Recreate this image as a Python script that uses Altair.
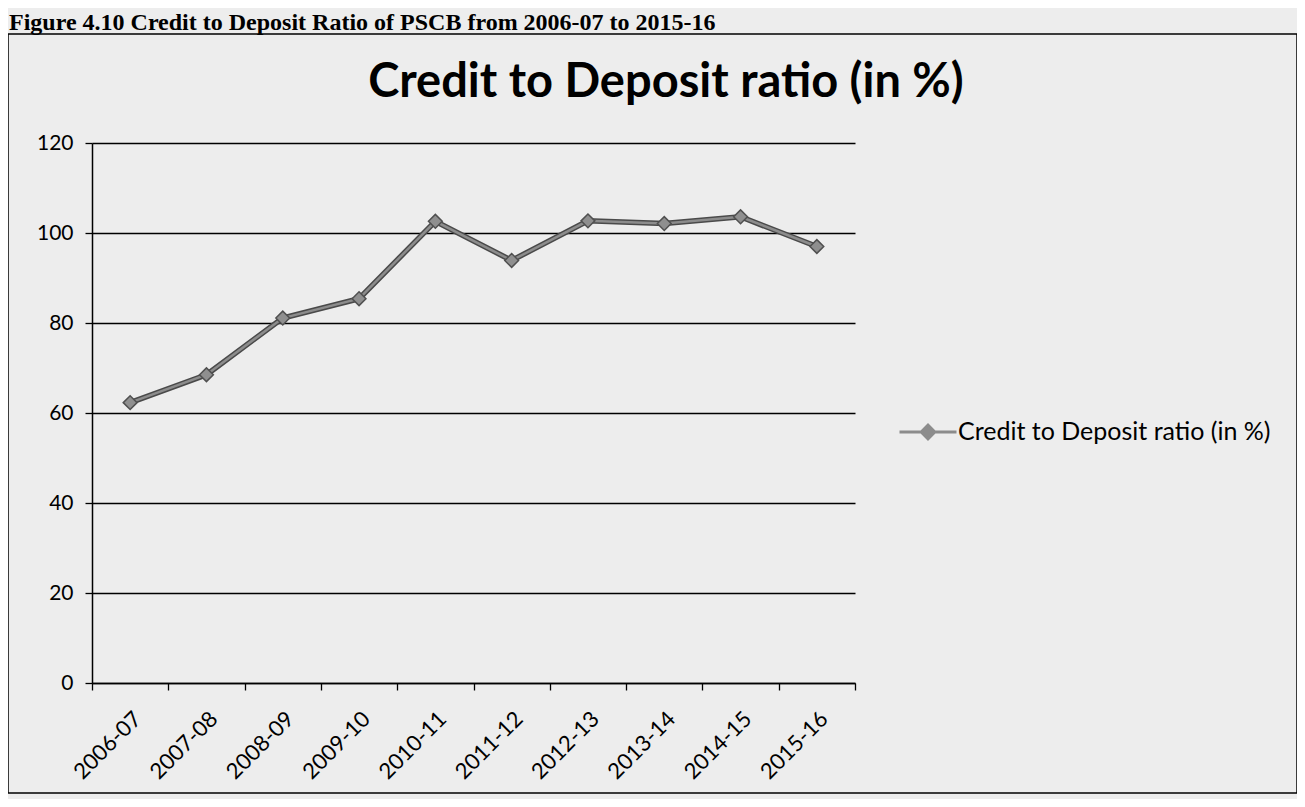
import altair as alt
import pandas as pd

years = ["2006-07", "2007-08", "2008-09", "2009-10", "2010-11",
         "2011-12", "2012-13", "2013-14", "2014-15", "2015-16"]
ratio = [62.3, 68.5, 81.1, 85.4, 102.6, 93.9, 102.7, 102.1, 103.6, 97.0]
y_ticks = [0, 20, 40, 60, 80, 100, 120]
series_name = "Credit to Deposit ratio (in %)"
chart_title = "Credit to Deposit ratio (in %)"
caption = "Figure 4.10 Credit to Deposit Ratio of PSCB from 2006-07 to 2015-16"

df = pd.DataFrame({"year": years, "ratio": ratio, "series": [series_name] * len(years)})
cap_df = pd.DataFrame({"label": [caption]})
title_df = pd.DataFrame({"label": [chart_title]})

W, H = 763, 540
FONT = "Lato"

xscale = alt.Scale(type="band", paddingInner=0, paddingOuter=0, domain=years)
yscale = alt.Scale(domain=[0, 120], nice=False)

x_axis = alt.Axis(title=None, labelAngle=-45, labelFont=FONT, labelFontSize=22,
                  labelColor="black", labelPadding=18, domainColor="black",
                  domainWidth=1.5, ticks=True, tickBand="extent", tickSize=7,
                  tickColor="black", tickWidth=1.3, grid=False)
y_axis = alt.Axis(title=None, values=y_ticks, labelFont=FONT, labelFontSize=21,
                  labelColor="black", labelPadding=12, tickSize=7, tickColor="black",
                  tickWidth=1.3, domainColor="black", domainWidth=1.5, grid=True,
                  gridColor="black", gridWidth=1.3, gridOpacity=1)

X = alt.X("year:N", scale=xscale, axis=x_axis, bandPosition=0.5, sort=years)
Y = alt.Y("ratio:Q", scale=yscale, axis=y_axis)

base = alt.Chart(df)

shadow = base.mark_line(color="#4a4a4a", strokeWidth=5.5).encode(x=X, y=Y)

sym_path = "M-2.5,0L-0.6,0L0,-0.6L0.6,0L2.5,0L0.6,0L0,0.6L-0.6,0Z"
line = base.mark_line(strokeWidth=2.5).encode(
    x=X, y=Y,
    color=alt.Color("series:N", scale=alt.Scale(range=["#8c8c8c"]),
                    legend=alt.Legend(title=None, orient="none", legendX=823, legendY=276,
                                      symbolType=sym_path, symbolSize=520,
                                      symbolStrokeWidth=3, symbolStrokeColor="#555555",
                                      symbolFillColor="#8c8c8c", labelFont=FONT,
                                      labelFontSize=25, labelColor="black",
                                      labelOffset=17, labelLimit=0, padding=0)))

points = base.mark_point(shape="diamond", filled=True, fill="#8f8f8f", stroke="#505050",
                         strokeWidth=1.5, size=190, opacity=1).encode(x=X, y=Y)

frame = alt.Chart(cap_df).mark_rect(fill=None, stroke="black", strokeWidth=1.5).encode(
    x=alt.value(-84), x2=alt.value(1205), y=alt.value(-109), y2=alt.value(650))

cap = alt.Chart(cap_df).mark_text(font="Liberation Serif", fontWeight="bold", fontSize=24,
                                  align="left", baseline="alphabetic", color="black").encode(
    x=alt.value(-83), y=alt.value(-113), text="label:N")

ttl = alt.Chart(title_df).mark_text(font=FONT, fontWeight="bold", fontSize=47,
                                    align="center", baseline="alphabetic", color="black").encode(
    x=alt.value(574), y=alt.value(-46), text="label:N")

chart = alt.layer(frame, cap, ttl, shadow, line, points).properties(
    width=W, height=H,
    autosize=alt.AutoSizeParams(type="none"),
    padding={"left": 84, "top": 135, "right": 442, "bottom": 116},
    background="#ededed",
).configure_view(stroke=None)

chart.save("out.html", embed_options={"renderer": "svg", "actions": False})
